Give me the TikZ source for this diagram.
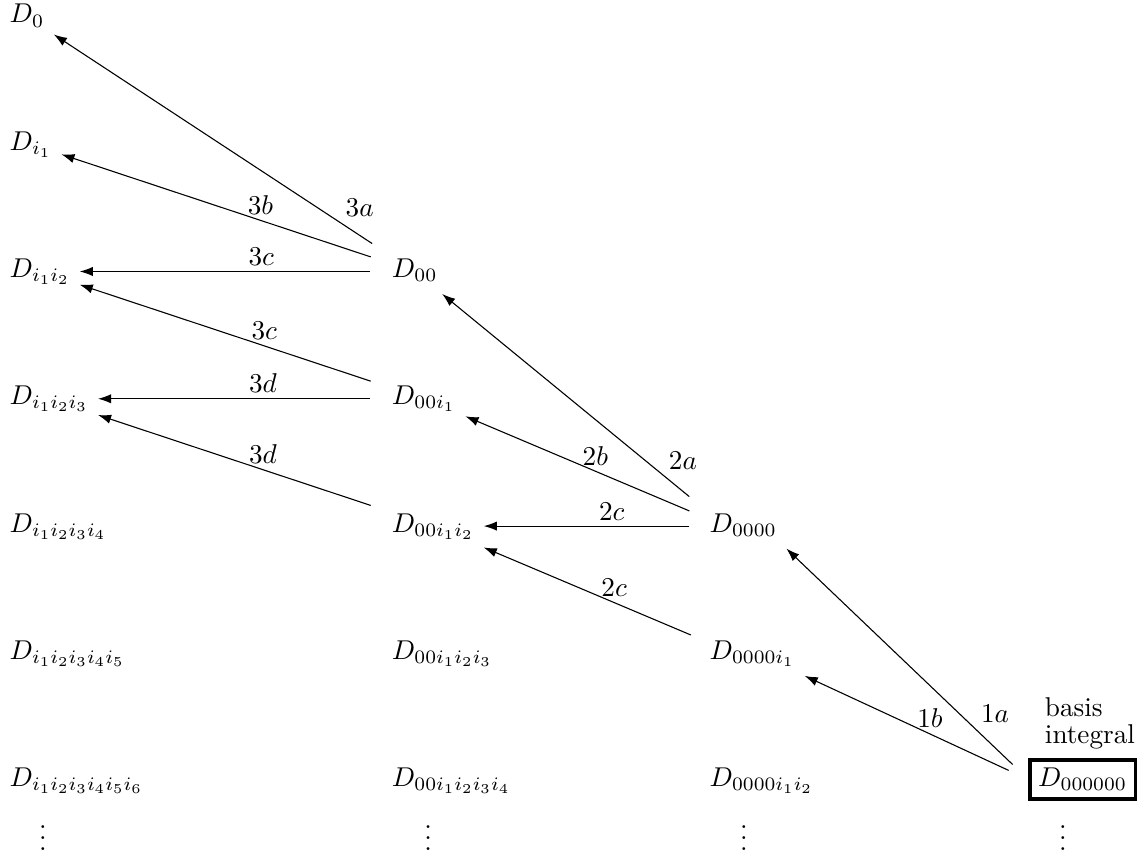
\documentclass[tikz,border=0pt]{standalone}
\usepackage{xcolor}
\usepackage{tikz}
\usetikzlibrary{arrows.meta}

\begin{document}
\begin{tikzpicture}[
        term/.style={anchor=base west, inner sep=3.33pt, text height=7pt, text depth=2.5pt},
        basisbox/.style={anchor=base west, draw, line width=1.2pt, inner sep=3pt},
        vdot/.style={anchor=base, inner sep=0pt},
        arrow/.style={-{Latex[length=4.8pt, width=3.4pt]}, shorten <=4.5pt},
        lab/.style={inner sep=2pt}
    ]
        \useasboundingbox (0,0) rectangle (14.796,-11.100);

        % Column 1
        \node[term] (D0) at (0,-0.297) {$D_0$};
        \node[term] (Di1) at (0,-1.942) {$D_{i_1}$};
        \node[term] (Di1i2) at (0,-3.587) {$D_{i_1i_2}$};
        \node[term] (Di1i2i3) at (0,-5.232) {$D_{i_1i_2i_3}$};
        \node[term] (Di1i2i3i4) at (0,-6.877) {$D_{i_1i_2i_3i_4}$};
        \node[term] (Di1i2i3i4i5) at (0,-8.522) {$D_{i_1i_2i_3i_4i_5}$};
        \node[term] (Di1i2i3i4i5i6) at (0,-10.167) {$D_{i_1i_2i_3i_4i_5i_6}$};

        % Column 2
        \node[term] (D00) at (4.941,-3.587) {$D_{00}$};
        \node[term] (D00i1) at (4.941,-5.232) {$D_{00i_1}$};
        \node[term] (D00i1i2) at (4.941,-6.877) {$D_{00i_1i_2}$};
        \node[term] (D00i1i2i3) at (4.941,-8.522) {$D_{00i_1i_2i_3}$};
        \node[term] (D00i1i2i3i4) at (4.941,-10.167) {$D_{00i_1i_2i_3i_4}$};

        % Column 3
        \node[term] (D0000) at (9.045,-6.877) {$D_{0000}$};
        \node[term] (D0000i1) at (9.045,-8.522) {$D_{0000i_1}$};
        \node[term] (D0000i1i2) at (9.045,-10.167) {$D_{0000i_1i_2}$};

        % Column 4
        \node[basisbox] (D000000) at (13.289,-10.167) {$D_{000000}$};
        \node[anchor=south west, inner sep=0pt] (basislabel) at ([shift={(5.9pt,3.2pt)}]D000000.north west) {\shortstack[l]{basis\\integral}};

        % Dots
        \node[vdot] (dots1) at (0.556,-10.986) {$\vdots$};
        \node[vdot] (dots2) at (5.531,-10.986) {$\vdots$};
        \node[vdot] (dots3) at (9.614,-10.986) {$\vdots$};
        \node[vdot] (dots4) at (13.736,-10.986) {$\vdots$};

        % Step 3
        \draw[arrow] (D00) -- node[lab, pos=.13, above right] {$3a$} (D0);
        \draw[arrow] (D00) -- node[lab, pos=.38, above] {$3b$} (Di1);
        \draw[arrow] (D00) -- node[lab, pos=.4, above] {$3c$} (Di1i2);
        \draw[arrow] (D00i1) -- node[lab, pos=.39, above] {$3c$} (Di1i2);
        \draw[arrow] (D00i1) -- node[lab, pos=.42, above] {$3d$} (Di1i2i3);
        \draw[arrow] (D00i1i2) -- node[lab, pos=.42, above] {$3d$} (Di1i2i3);

        % Step 2
        \draw[arrow, shorten <=17.1pt] ([xshift=-6.6pt]D0000.center) -- node[lab, pos=.22, above right] {$2a$} (D00);
        \draw[arrow, shorten <=14.3pt] ([xshift=-6.6pt]D0000.center) -- node[lab, pos=.5, above] {$2b$} (D00i1);
        \draw[arrow, shorten <=13.2pt] ([xshift=-6.6pt]D0000.center) -- node[lab, pos=.47, above] {$2c$} (D00i1i2);
        \draw[arrow, shorten <=17.4pt] ([xshift=-6.6pt]D0000i1.center) -- node[lab, pos=.48, above] {$2c$} (D00i1i2);

        % Step 1
        \draw[arrow, shorten <=8pt] (D000000.west) -- node[lab, pos=.22, above right] {$1a$} (D0000.south east);
        \draw[arrow, shorten <=8pt] (D000000.west) -- node[lab, pos=.44, above] {$1b$} (D0000i1.south east);

    \end{tikzpicture}
\end{document}
